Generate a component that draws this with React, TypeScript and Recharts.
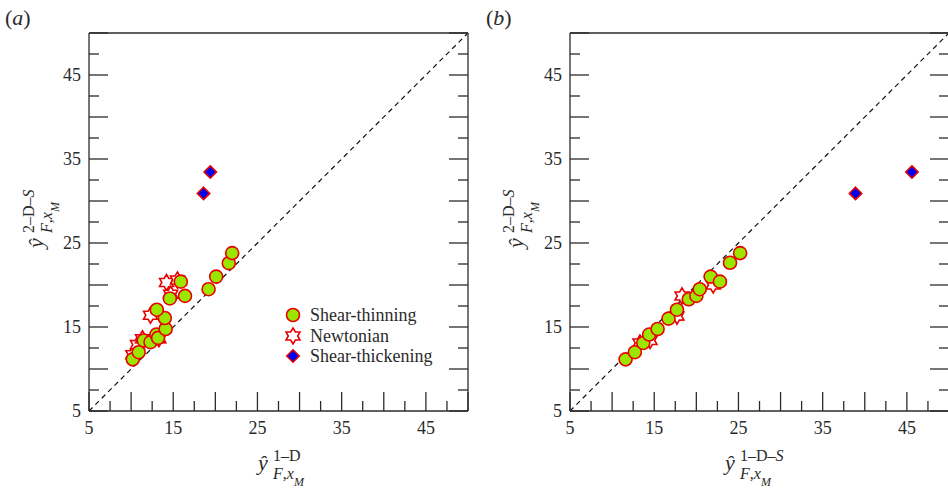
import React from "react"
import { ScatterChart, Scatter, XAxis, YAxis, ReferenceLine } from "recharts"

// tick positions (major every 5, minor every 2.5) and the labelled ones
const TICKS = [5, 7.5, 10, 12.5, 15, 17.5, 20, 22.5, 25, 27.5, 30, 32.5, 35, 37.5, 40, 42.5, 45, 47.5, 50]
const TICK_LABELS = [5, 15, 25, 35, 45]
const DOMAIN: [number, number] = [5, 50]
const DIAGONAL = [{ x: 5, y: 5 }, { x: 50, y: 50 }]

// panel (a): 1-D vs 2-D-S
const thinA_x = [10.2, 10.9, 11.5, 12.3, 13.0, 13.2, 14.1, 14.0, 13.05, 14.6, 16.4, 15.9, 19.2, 20.1, 21.6, 22.0]
const thinA_y = [11.15, 12.0, 13.4, 13.2, 14.1, 13.7, 14.76, 16.07, 17.06, 18.4, 18.7, 20.4, 19.5, 21.0, 22.6, 23.8]
const newtA_x = [10.2, 10.75, 11.35, 12.3, 13.3, 14.2, 14.7, 15.5]
const newtA_y = [11.7, 12.9, 13.6, 16.4, 13.6, 20.3, 18.9, 20.6]
const thickA_x = [18.6, 19.4]
const thickA_y = [30.9, 33.45]

// panel (b): 1-D-S vs 2-D-S
const thinB_x = [11.6, 12.7, 13.7, 14.4, 15.4, 16.7, 17.7, 19.1, 20.0, 20.4, 21.7, 22.8, 24.0, 25.2]
const thinB_y = [11.15, 12.0, 13.1, 14.1, 14.76, 16.0, 17.06, 18.3, 18.7, 19.5, 21.0, 20.4, 22.65, 23.8]
const newtB_x = [13.3, 14.5, 17.7, 18.3, 22.0]
const newtB_y = [13.1, 13.4, 16.3, 18.7, 20.0]
const thickB_x = [38.9, 45.6]
const thickB_y = [30.9, 33.45]

const pts = (xs: number[], ys: number[]) => xs.map((x, i) => ({ x, y: ys[i] }))

const FONT = "'Liberation Serif', 'DejaVu Serif', 'Times New Roman', serif"
const INK = "#2b2b2b"
const RED = "#e80000"
const serif = { fontFamily: FONT }

function Circle({ cx, cy }: any) {
    return <circle cx={cx} cy={cy} r={6.5} fill="#9be600" stroke={RED} strokeWidth={1.6} />
}

function Star({ cx, cy }: any) {
    const R = 8, r = 4.7
    const p = []
    for (let i = 0; i < 12; i++) {
        const a = -Math.PI / 2 + (i * Math.PI) / 6
        const rad = i % 2 === 0 ? R : r
        p.push(`${cx + rad * Math.cos(a)},${cy + rad * Math.sin(a)}`)
    }
    return <polygon points={p.join(" ")} fill="#fff" stroke={RED} strokeWidth={1.6} />
}

function Diamond({ cx, cy }: any) {
    const s = 6.2
    return <polygon points={`${cx},${cy - s} ${cx + s},${cy} ${cx},${cy + s} ${cx - s},${cy}`} fill="#0000f0" stroke={RED} strokeWidth={1.6} />
}

function FrameTick({ x, y, payload, side }: any) {
    const v = payload.value
    const len = v % 5 === 0 ? 19 : 10
    const show = TICK_LABELS.includes(v)
    const line = { stroke: INK, strokeWidth: 1.3 }
    if (side === "bottom")
        return (
            <g>
                <line x1={x} y1={y} x2={x} y2={y - len} {...line} />
                {show && <text x={x} y={y + 23} textAnchor="middle" style={serif} fontSize={18} fill={INK}>{v}</text>}
            </g>
        )
    if (side === "top") return <line x1={x} y1={y} x2={x} y2={y + len} {...line} />
    if (side === "left")
        return (
            <g>
                <line x1={x} y1={y} x2={x + len} y2={y} {...line} />
                {show && <text x={x - 8} y={y + 6} textAnchor="end" style={serif} fontSize={18} fill={INK}>{v}</text>}
            </g>
        )
    return <line x1={x} y1={y} x2={x - len} y2={y} {...line} />
}

function Panel({ left, width, marginLeft, thin, newt, thick }: any) {
    const axisLine = { stroke: INK, strokeWidth: 1.3 }
    const common = {
        type: "number" as const, domain: DOMAIN, ticks: TICKS, interval: 0, allowDataOverflow: true,
        tickSize: 0, tickMargin: 0, tickLine: false, axisLine,
    }
    // axes are 1px thick, so margins are 1px short of the plot edges
    return (
        <div style={{ position: "absolute", left, top: 0 }}>
            <ScatterChart width={width} height={492} margin={{ top: 32, left: marginLeft - 1, right: width - marginLeft - 380, bottom: 80 }}>
                <XAxis xAxisId="b" dataKey="x" height={1} {...common} tick={(p: any) => <FrameTick {...p} side="bottom" />} />
                <XAxis xAxisId="t" orientation="top" height={1} {...common} tick={(p: any) => <FrameTick {...p} side="top" />} />
                <YAxis yAxisId="l" dataKey="y" width={1} {...common} tick={(p: any) => <FrameTick {...p} side="left" />} />
                <YAxis yAxisId="r" orientation="right" width={1} {...common} tick={(p: any) => <FrameTick {...p} side="right" />} />
                <ReferenceLine xAxisId="b" yAxisId="l" segment={DIAGONAL} stroke="#111" strokeWidth={1.2} strokeDasharray="5 4" />
                <Scatter xAxisId="b" yAxisId="l" name="Newtonian" data={newt} shape={Star} isAnimationActive={false} />
                <Scatter xAxisId="b" yAxisId="l" name="Shear-thinning" data={thin} shape={Circle} isAnimationActive={false} />
                <Scatter xAxisId="b" yAxisId="l" name="Shear-thickening" data={thick} shape={Diamond} isAnimationActive={false} />
            </ScatterChart>
        </div>
    )
}

// ŷ with a superscript and an F,x_M subscript; anchor is the start of ŷ on its baseline
function YHat({ x, y, rotate = 0, sup }: { x: number; y: number; rotate?: number; sup: React.ReactNode }) {
    return (
        <g transform={`translate(${x},${y}) rotate(${rotate})`} style={serif} fill={INK}>
            <text x={0} y={0} fontSize={22} fontStyle="italic">ŷ</text>
            <text x={15} y={-9} fontSize={16}>{sup}</text>
            <text x={15} y={9} fontSize={16}>
                <tspan fontStyle="italic">F</tspan>,<tspan fontStyle="italic">x</tspan>
                <tspan fontStyle="italic" fontSize={12} dy={7}>M</tspan>
            </text>
        </g>
    )
}

const supD = <>1–D</>
const supDS = <>1–D–<tspan fontStyle="italic">S</tspan></>
const sup2DS = <>2–D–<tspan fontStyle="italic">S</tspan></>

export default function App() {
    const legend = [
        { label: "Shear-thinning", Shape: Circle, y: 315 },
        { label: "Newtonian", Shape: Star, y: 336 },
        { label: "Shear-thickening", Shape: Diamond, y: 356 },
    ]
    return (
        <div style={{ position: "absolute", left: 0, top: 0, width: 948, height: 492, overflow: "hidden", background: "#fff" }}>
            <Panel left={0} width={474} marginLeft={89} thin={pts(thinA_x, thinA_y)} newt={pts(newtA_x, newtA_y)} thick={pts(thickA_x, thickA_y)} />
            <Panel left={474} width={480} marginLeft={96} thin={pts(thinB_x, thinB_y)} newt={pts(newtB_x, newtB_y)} thick={pts(thickB_x, thickB_y)} />
            <svg width={948} height={492} style={{ position: "absolute", left: 0, top: 0, pointerEvents: "none" }}>
                <text x={5} y={25} style={serif} fontSize={22} fill={INK}>(<tspan fontStyle="italic">a</tspan>)</text>
                <text x={486} y={25} style={serif} fontSize={22} fill={INK}>(<tspan fontStyle="italic">b</tspan>)</text>
                <YHat x={258} y={470} sup={supD} />
                <YHat x={725} y={470} sup={supDS} />
                <YHat x={43} y={248} rotate={-90} sup={sup2DS} />
                <YHat x={523} y={248} rotate={-90} sup={sup2DS} />
                {legend.map((l) => (
                    <g key={l.label}>
                        <l.Shape cx={293} cy={l.y} />
                        <text x={310} y={l.y + 6} style={serif} fontSize={18} fill={INK}>{l.label}</text>
                    </g>
                ))}
            </svg>
        </div>
    )
}
